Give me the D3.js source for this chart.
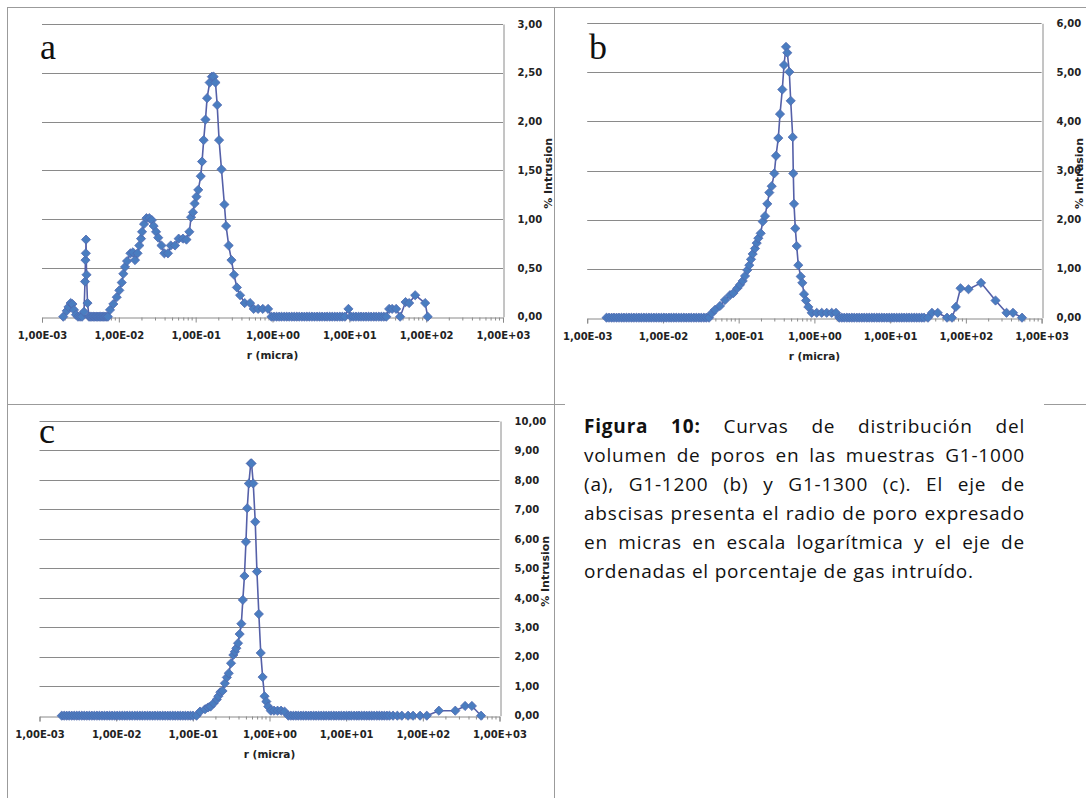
<!DOCTYPE html>
<html><head><meta charset="utf-8">
<script src="https://cdn.jsdelivr.net/npm/d3@7"></script>
<style>html,body{margin:0;padding:0;background:#fff;} svg{display:block}</style>
</head><body>
<svg id="fig" width="1086" height="798"></svg>
<script>
// ---------------- DATA ----------------
const xTickValues = [0.001, 0.01, 0.1, 1, 10, 100, 1000];
const xTickLabels = ["1,00E-03","1,00E-02","1,00E-01","1,00E+00","1,00E+01","1,00E+02","1,00E+03"];
const yTicksA = [0, 0.5, 1, 1.5, 2, 2.5, 3];
const yTicksB = [0, 1, 2, 3, 4, 5, 6];
const yTicksC = [0, 1, 2, 3, 4, 5, 6, 7, 8, 9, 10];
const panelLetters = ["a", "b", "c"];
const xAxisTitle = "r (micra)";
const yAxisTitle = "% Intrusion";

// [r (micra), % intrusion]
const seriesA = [
 [0.00189,0],[0.00210,0.06],[0.00221,0.10],[0.00236,0.14],[0.00249,0.13],[0.00261,0.07],[0.00277,0.02],
 [0.00294,0],[0.00313,0],[0.00332,0],[0.00352,0.05],[0.00363,0.36],[0.00368,0.58],[0.00372,0.65],
 [0.00374,0.79],[0.00380,0.43],[0.00391,0.14],[0.00409,0],[0.00425,0],[0.00445,0],[0.00465,0],[0.00486,0],
 [0.00508,0],[0.0053,0],[0.00554,0],[0.00579,0],[0.00605,0],[0.00632,0],[0.0066,0],[0.0069,0],[0.00721,0],
 [0.00768,0.07],[0.00848,0.13],
 [0.00939,0.20],[0.01015,0.27],[0.01091,0.35],[0.01144,0.44],[0.01204,0.51],[0.01279,0.57],[0.01416,0.65],
 [0.01527,0.66],[0.01625,0.58],[0.01752,0.65],[0.01849,0.73],[0.01946,0.80],[0.02005,0.87],[0.02129,0.95],
 [0.02288,1.01],[0.02494,1.01],[0.02690,0.99],[0.02838,0.93],[0.03051,0.87],[0.03258,0.81],[0.03587,0.73],
 [0.03912,0.65],[0.04358,0.65],[0.04741,0.73],[0.05393,0.73],[0.06007,0.80],[0.06834,0.80],[0.07590,0.79],
 [0.08279,0.87],[0.08711,1.02],[0.09222,1.07],[0.09705,1.16],[0.1024,1.23],[0.1081,1.30],[0.1165,1.44],
 [0.1211,1.59],[0.1271,1.81],[0.1342,2.02],[0.1408,2.24],[0.1522,2.40],[0.1625,2.46],[0.1715,2.46],
 [0.1811,2.40],[0.1906,2.17],[0.2017,1.81],[0.2168,1.51],[0.2365,1.15],[0.2488,0.93],[0.2690,0.73],
 [0.2924,0.58],[0.3153,0.43],[0.3439,0.30],[0.3785,0.22],[0.4345,0.14],[0.5109,0.14],[0.5691,0.08],
 [0.6494,0.08],[0.7478,0.08],[0.8763,0.08],[0.9705,0],[1.047,0],[1.13,0],[1.22,0],[1.31,0],[1.42,0],
 [1.53,0],[1.65,0],[1.78,0],[1.92,0],[2.07,0],[2.23,0],[2.41,0],[2.6,0],[2.8,0],[3.02,0],[3.26,0],
 [3.52,0],[3.8,0],[4.1,0],[4.42,0],[4.77,0],[5.14,0],[5.55,0],[5.99,0],[6.46,0],[6.97,0],[7.52,0],
 [8.11,0],[8.75,0],[9.734,0.08],[10.5,0],[11.3,0],[12.2,0],[13.2,0],[14.2,0],[15.3,0],[16.5,0],[17.8,0],
 [19.2,0],[20.8,0],[22.4,0],[24.2,0],[26.1,0],[28.1,0],[30.3,0],
 [32.98,0.08],[36.08,0.08],[40.69,0.08],[45.86,0],[53.94,0.15],[60.05,0.14],[71.93,0.22],[97.05,0.14],[104.6,0]
];

const seriesB = [
 [0.0018,0],[0.00194,0],[0.0021,0],[0.00226,0],[0.00244,0],[0.00263,0],[0.00284,0],[0.00306,0],[0.0033,0],
 [0.00356,0],[0.00384,0],[0.00414,0],[0.00447,0],[0.00482,0],[0.0052,0],[0.00561,0],[0.00605,0],[0.00653,0],
 [0.00704,0],[0.0076,0],[0.0082,0],[0.00884,0],[0.00954,0],[0.0103,0],[0.0111,0],[0.012,0],[0.0129,0],
 [0.0139,0],[0.015,0],[0.0162,0],[0.0175,0],[0.0189,0],[0.0204,0],[0.022,0],[0.0237,0],[0.0256,0],
 [0.0276,0],[0.0298,0],[0.0321,0],[0.0347,0],[0.0374,0],
 [0.0406,0],[0.04406,0.09],[0.0487,0.16],[0.0567,0.24],[0.066,0.36],[0.07686,0.46],[0.08494,0.50],
 [0.09594,0.60],[0.1041,0.67],[0.1131,0.75],[0.1213,0.85],[0.130,0.97],[0.1382,1.07],[0.1455,1.19],
 [0.1532,1.30],[0.1643,1.41],[0.173,1.52],[0.1817,1.62],[0.1954,1.72],[0.2077,1.96],[0.2227,2.07],
 [0.2388,2.32],[0.2538,2.55],[0.2731,2.68],[0.2955,2.94],[0.3112,3.30],[0.3337,3.66],[0.3514,4.15],
 [0.3769,4.65],[0.3969,5.15],[0.4218,5.52],[0.4388,5.40],[0.4663,5.01],[0.4866,4.42],[0.5171,3.68],
 [0.5266,2.94],[0.5379,2.32],[0.5597,1.82],[0.584,1.46],[0.6131,1.07],[0.6595,0.84],[0.6925,0.71],
 [0.7292,0.48],[0.7748,0.35],[0.8311,0.22],[0.9214,0.10],[1.073,0.10],[1.249,0.10],[1.454,0.10],
 [1.693,0.10],[1.929,0.10],[2.133,0],[2.3,0],[2.48,0],[2.68,0],[2.89,0],[3.12,0],[3.36,0],[3.63,0],
 [3.91,0],[4.22,0],[4.55,0],[4.91,0],[5.3,0],[5.72,0],[6.17,0],[6.66,0],[7.18,0],[7.75,0],[8.36,0],
 [9.02,0],[9.73,0],[10.5,0],[11.3,0],[12.2,0],[13.2,0],[14.2,0],[15.3,0],[16.5,0],[17.8,0],[19.2,0],
 [20.8,0],[22.4,0],[24.2,0],[26.1,0],[28.1,0],[31.6,0],[35.7,0.10],[42.5,0.10],
 [56.4,0],[65.6,0],[73.7,0.22],[85.0,0.60],[108.4,0.58],[158.6,0.71],[246.4,0.35],[344.3,0.10],[419.4,0.10],[551.3,0]
];

const seriesC = [
 [0.00195,0],[0.0021,0],[0.00226,0],[0.00244,0],[0.00263,0],[0.00284,0],[0.00306,0],[0.0033,0],[0.00356,0],
 [0.00384,0],[0.00414,0],[0.00447,0],[0.00482,0],[0.0052,0],[0.00561,0],[0.00605,0],[0.00653,0],[0.00704,0],
 [0.0076,0],[0.0082,0],[0.00884,0],[0.00954,0],[0.0103,0],[0.0111,0],[0.012,0],[0.0129,0],[0.0139,0],
 [0.015,0],[0.0162,0],[0.0175,0],[0.0189,0],[0.0204,0],[0.022,0],[0.0237,0],[0.0256,0],[0.0276,0],
 [0.0298,0],[0.0321,0],[0.0347,0],[0.0374,0],[0.0404,0],[0.0436,0],[0.047,0],[0.0507,0],[0.0547,0],
 [0.059,0],[0.0637,0],[0.0687,0],[0.0741,0],[0.08,0],[0.0863,0],[0.0931,0],[0.1004,0],[0.1117,0],
 [0.1242,0.14],[0.1443,0.22],[0.1579,0.28],[0.1702,0.31],[0.1863,0.42],[0.205,0.55],
 [0.2151,0.66],[0.2285,0.80],[0.2441,0.84],[0.2616,1.10],[0.2778,1.30],[0.294,1.44],[0.315,1.78],
 [0.3376,2.06],[0.353,2.17],[0.3693,2.29],[0.3888,2.46],[0.4079,2.77],[0.4292,3.12],[0.449,3.93],
 [0.4711,4.74],[0.4929,5.90],[0.5124,7.04],[0.5378,7.88],[0.5693,8.56],[0.5832,8.56],[0.6138,7.88],
 [0.6517,6.58],[0.6858,4.89],[0.7262,3.45],[0.7688,2.13],[0.8138,1.31],[0.8618,0.66],[0.9097,0.48],
 [0.9632,0.31],[1.041,0.17],[1.147,0.17],[1.274,0.17],[1.415,0.17],[1.572,0.14],[1.762,0],[1.9,0],
 [2.05,0],[2.21,0],[2.38,0],[2.57,0],[2.77,0],[2.99,0],[3.23,0],[3.48,0],[3.76,0],[4.05,0],[4.37,0],
 [4.72,0],[5.09,0],[5.49,0],[5.93,0],[6.39,0],[6.9,0],[7.44,0],[8.03,0],[8.66,0],[9.35,0],[10.1,0],
 [10.9,0],[11.7,0],[12.7,0],[13.7,0],[14.7,0],[15.9,0],[17.2,0],[18.5,0],[20.0,0],[21.5,0],[23.2,0],
 [25.1,0],[27.1,0],[29.2,0],[31.5,0],[34.0,0],[36.7,0],[40.9,0],[46.5,0],[53.2,0],[64.2,0],[74.6,0],
 [92.1,0],[112.6,0],[162.0,0.17],[265.0,0.17],[355.8,0.33],[436.4,0.33],[575.3,0]
];

const captionLines = [
 "Figura 10: Curvas de distribución del",
 "volumen de poros en las muestras G1-1000",
 "(a), G1-1200 (b) y G1-1300 (c). El eje de",
 "abscisas presenta el radio de poro expresado",
 "en micras en escala logarítmica y el eje de",
 "ordenadas el porcentaje de gas intruído."
];
const captionBoldWords = 2;

// ---------------- DRAW ----------------
const svg = d3.select("#fig");
const borderColor = "#9b9b9b";
const gridColor = "#8a8a8a";
const lineColor = "#5560a8";
const markerFill = "#4a7dc0";
const markerStroke = "#5068ae";

// table borders
const borders = [
  [7, 7.5, 1086, 7.5],
  [7.5, 7, 7.5, 798],
  [554.5, 7, 554.5, 798],
  [7, 404.5, 565, 404.5],
  [1044, 404.5, 1086, 404.5]
];
svg.append("g").selectAll("line").data(borders).join("line")
  .attr("x1", d => d[0]).attr("y1", d => d[1]).attr("x2", d => d[2]).attr("y2", d => d[3])
  .attr("stroke", borderColor).attr("stroke-width", 1);

const fmt = v => d3.format(".2f")(v).replace(".", ",");
const diamond = "M0,-4.6L4.6,0L0,4.6L-4.6,0Z";

const panels = [
  {data: seriesA, yTicks: yTicksA, letter: panelLetters[0], x0: 42, x1: 503, yTop: 24, yBot: 316.7, lx: 40, ly: 59, tx: 49},
  {data: seriesB, yTicks: yTicksB, letter: panelLetters[1], x0: 587.2, x1: 1041.6, yTop: 23.3, yBot: 317.7, lx: 589, ly: 59, tx: 41.5},
  {data: seriesC, yTicks: yTicksC, letter: panelLetters[2], x0: 39.5, x1: 499.5, yTop: 421, yBot: 715.7, lx: 39, ly: 443, tx: 49}
];

panels.forEach(p => {
  const g = svg.append("g");
  const x = d3.scaleLog().domain([0.001, 1000]).range([p.x0, p.x1]);
  const y = d3.scaleLinear().domain([0, d3.max(p.yTicks)]).range([p.yBot, p.yTop]);

  // gridlines
  g.append("g").selectAll("line").data(p.yTicks.filter(v => v > 0)).join("line")
    .attr("x1", p.x0).attr("x2", p.x1)
    .attr("y1", d => Math.round(y(d)) + 0.5).attr("y2", d => Math.round(y(d)) + 0.5)
    .attr("stroke", gridColor).attr("stroke-width", 1);

  // x axis
  const xAxis = d3.axisBottom(x).tickValues(xTickValues)
    .tickFormat((d, i) => xTickLabels[i]).tickSize(5).tickPadding(9);
  const xg = g.append("g").attr("transform", `translate(0,${Math.round(p.yBot) + 0.5})`).call(xAxis);
  xg.select(".domain").attr("stroke", gridColor);
  xg.selectAll(".tick line").attr("stroke", gridColor);
  xg.selectAll(".tick text").attr("font-family", "DejaVu Sans").attr("font-weight", "bold")
    .attr("font-size", 10).attr("fill", "#222");
  // minor ticks
  const minor = x.ticks().filter(v => !xTickValues.includes(v));
  g.append("g").selectAll("line").data(minor).join("line")
    .attr("x1", d => x(d)).attr("x2", d => x(d))
    .attr("y1", Math.round(p.yBot) + 0.5).attr("y2", Math.round(p.yBot) + 3.5)
    .attr("stroke", gridColor).attr("stroke-width", 1);

  // right y axis
  const yAxis = d3.axisRight(y).tickValues(p.yTicks).tickFormat(fmt).tickSize(0).tickPadding(14);
  const yg = g.append("g").attr("transform", `translate(${Math.round(p.x1) + 0.5},0)`).call(yAxis);
  yg.select(".domain").attr("stroke", gridColor);
  yg.selectAll(".tick text").attr("font-family", "DejaVu Sans").attr("font-weight", "bold")
    .attr("font-size", 10).attr("fill", "#222");

  // axis titles
  g.append("text").attr("x", (p.x0 + p.x1) / 2).attr("y", p.yBot + 42.5)
    .attr("text-anchor", "middle").attr("font-family", "DejaVu Sans").attr("font-weight", "bold")
    .attr("font-size", 10.5).attr("fill", "#222").text(xAxisTitle);
  const ty = (p.yTop + p.yBot) / 2 + 3;
  g.append("text").attr("transform", `translate(${p.x1 + p.tx},${ty}) rotate(-90)`)
    .attr("text-anchor", "middle").attr("font-family", "DejaVu Sans").attr("font-weight", "bold")
    .attr("font-size", 11).attr("fill", "#222").text(yAxisTitle);

  // panel letter
  g.append("text").attr("x", p.lx).attr("y", p.ly).attr("font-family", "Liberation Serif")
    .attr("font-size", 36).attr("fill", "#111").text(p.letter);

  // series line
  const line = d3.line().x(d => x(d[0])).y(d => y(d[1]));
  g.append("path").datum(p.data).attr("d", line).attr("fill", "none")
    .attr("stroke", lineColor).attr("stroke-width", 1.6).attr("stroke-linejoin", "round");
  // markers
  g.append("g").selectAll("path").data(p.data).join("path")
    .attr("d", diamond).attr("transform", d => `translate(${x(d[0])},${y(d[1])})`)
    .attr("fill", markerFill).attr("stroke", markerStroke).attr("stroke-width", 0.8);
});

// caption (justified)
const capX0 = 584, capX1 = 1025, capY0 = 433, capLH = 29;
const capFont = "Open Sans", capSize = 19, capLS = 0.8;
const cap = svg.append("g");
captionLines.forEach((ln, li) => {
  const words = ln.split(" ");
  const texts = words.map((w, wi) => cap.append("text")
    .attr("y", capY0 + li * capLH)
    .attr("font-family", capFont).attr("font-size", capSize).attr("fill", "#111")
    .attr("letter-spacing", capLS)
    .attr("font-weight", (li === 0 && wi < captionBoldWords) ? "bold" : "normal")
    .text(w));
  const widths = texts.map(t => t.node().getComputedTextLength());
  const total = d3.sum(widths);
  const last = li === captionLines.length - 1;
  const spaceW = capSize * 0.26 + capLS;
  const gap = last ? spaceW : (capX1 - capX0 - total) / (words.length - 1);
  let cx = capX0;
  texts.forEach((t, i) => { t.attr("x", cx); cx += widths[i] + gap; });
});
</script>
</body></html>
